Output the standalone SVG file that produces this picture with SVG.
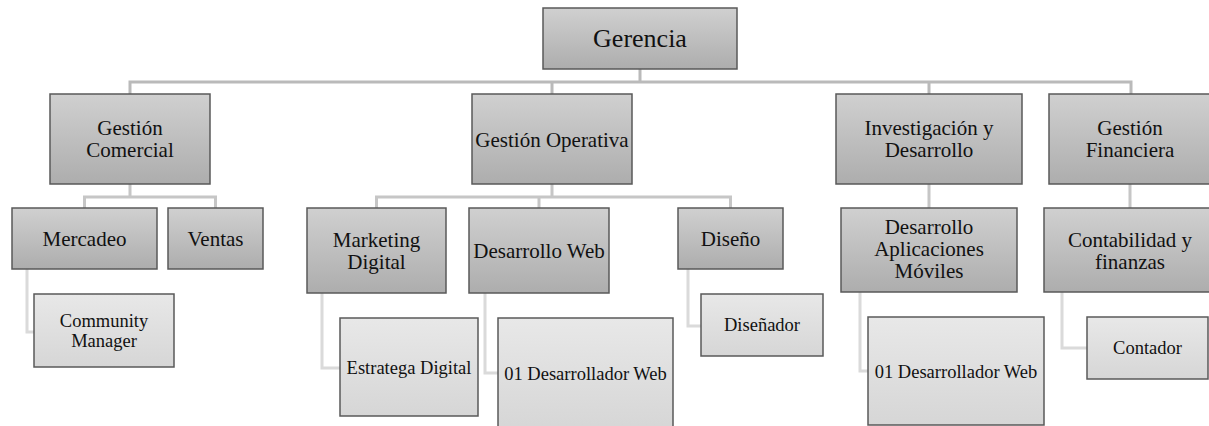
<svg xmlns="http://www.w3.org/2000/svg" width="1209" height="426" viewBox="0 0 1209 426" font-family="'Liberation Serif', serif">
<defs>
<linearGradient id="gMid" x1="0" y1="0" x2="0" y2="1">
<stop offset="0" stop-color="#d0d0d0"/>
<stop offset="1" stop-color="#adadad"/>
</linearGradient>
<linearGradient id="gLeaf" x1="0" y1="0" x2="0" y2="1">
<stop offset="0" stop-color="#e8e8e8"/>
<stop offset="1" stop-color="#d6d6d6"/>
</linearGradient>
</defs>
<style>
.mid{fill:url(#gMid);stroke:#595959;stroke-width:1.5}
.leaf{fill:url(#gLeaf);stroke:#595959;stroke-width:1.5}
text{font-family:'Liberation Serif', serif;fill:#111;text-anchor:middle}
.t26{font-size:26px}
.t21{font-size:21px}
.t18{font-size:18.5px}
.c1{fill:none;stroke:#bababa;stroke-width:3}
.c2{fill:none;stroke:#c6c6c6;stroke-width:3}
.c3{fill:none;stroke:#dadada;stroke-width:3}
</style>
<rect width="1209" height="426" fill="#ffffff"/>
<g id="connectors">
<path class="c1" d="M640 69 V82 M130 94 V82 H1131 V94 M552 82 V94 M929 82 V94"/>
<path class="c2" d="M130 184 V197 M84.5 208 V197 H215.5 V208"/>
<path class="c2" d="M552 184 V197 M376.5 208 V197 H730.5 V208 M539 197 V208"/>
<path class="c2" d="M929 184 V208 M1130 184 V208"/>
<path class="c3" d="M27 269 V332 H34 M322 293 V368 H340 M485 293 V373 H498 M688 269 V326 H701 M860 292 V371 H868 M1062 292 V348 H1087"/>
</g>
<g id="gerencia"><rect class="mid" x="543" y="8" width="194" height="61"/><text class="t26" x="640" y="47">Gerencia</text></g>
<g id="gestion-comercial"><rect class="mid" x="50" y="94" width="160" height="90"/><text class="t21" x="130" y="135">Gestión</text><text class="t21" x="130" y="157">Comercial</text></g>
<g id="gestion-operativa"><rect class="mid" x="472" y="94" width="160" height="90"/><text class="t21" x="552" y="146.5">Gestión Operativa</text></g>
<g id="investigacion"><rect class="mid" x="836" y="94" width="186" height="90"/><text class="t21" x="929" y="135">Investigación y</text><text class="t21" x="929" y="157">Desarrollo</text></g>
<g id="gestion-financiera"><rect class="mid" x="1049" y="94" width="162" height="90"/><text class="t21" x="1130" y="135">Gestión</text><text class="t21" x="1130" y="157">Financiera</text></g>
<g id="mercadeo"><rect class="mid" x="12" y="208" width="145" height="61"/><text class="t21" x="84.5" y="245.5">Mercadeo</text></g>
<g id="ventas"><rect class="mid" x="168" y="208" width="95" height="61"/><text class="t21" x="215.5" y="245.5">Ventas</text></g>
<g id="community-manager"><rect class="leaf" x="34" y="294" width="140" height="73"/><text class="t18" x="104" y="327">Community</text><text class="t18" x="104" y="346.5">Manager</text></g>
<g id="marketing-digital"><rect class="mid" x="307" y="208" width="139" height="85"/><text class="t21" x="376.5" y="246.5">Marketing</text><text class="t21" x="376.5" y="268.5">Digital</text></g>
<g id="desarrollo-web"><rect class="mid" x="469" y="208" width="140" height="85"/><text class="t21" x="539" y="258">Desarrollo Web</text></g>
<g id="diseno"><rect class="mid" x="678" y="208" width="105" height="61"/><text class="t21" x="730.5" y="245.5">Diseño</text></g>
<g id="estratega-digital"><rect class="leaf" x="340" y="318" width="138" height="98"/><text class="t18" x="409" y="373.5">Estratega Digital</text></g>
<g id="desarrollador-web-1"><rect class="leaf" x="498" y="318" width="175" height="112"/><text class="t18" x="585.5" y="380">01 Desarrollador Web</text></g>
<g id="disenador"><rect class="leaf" x="701" y="294" width="122" height="62"/><text class="t18" x="762" y="331">Diseñador</text></g>
<g id="desarrollo-apps"><rect class="mid" x="841" y="208" width="176" height="84"/><text class="t21" x="929" y="234">Desarrollo</text><text class="t21" x="929" y="256">Aplicaciones</text><text class="t21" x="929" y="278">Móviles</text></g>
<g id="desarrollador-web-2"><rect class="leaf" x="868" y="317" width="176" height="108"/><text class="t18" x="956" y="377.5">01 Desarrollador Web</text></g>
<g id="contabilidad"><rect class="mid" x="1044" y="208" width="172" height="84"/><text class="t21" x="1130" y="246.5">Contabilidad y</text><text class="t21" x="1130" y="268.5">finanzas</text></g>
<g id="contador"><rect class="leaf" x="1087" y="317" width="121" height="62"/><text class="t18" x="1147.5" y="354">Contador</text></g>
</svg>
